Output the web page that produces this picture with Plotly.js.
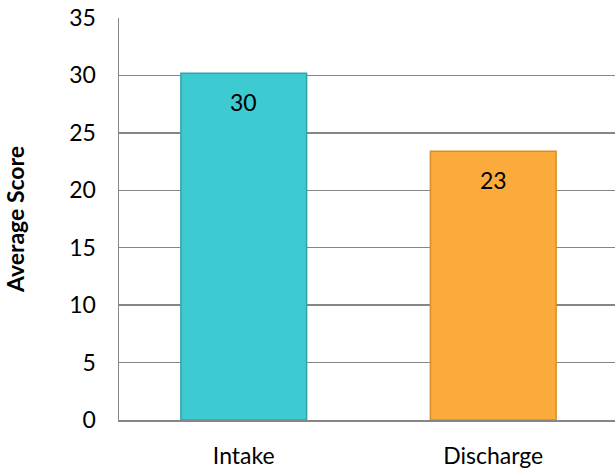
<!DOCTYPE html>
<html>
<head>
<meta charset="utf-8">
<script src="https://cdn.plot.ly/plotly-3.0.1.min.js"></script>
<style>
html,body{margin:0;padding:0;overflow:hidden;background:#fff;}
#chart{width:618px;height:471px;}
</style>
</head>
<body>
<div id="chart"></div>
<script>
const categories = ["Intake", "Discharge"];
const scores = [30.2, 23.4];
const labels = ["30", "23"];
const barColors = ["#3DCAD0", "#FBAB3B"];
const edgeColors = ["#2FA5AA", "#D98E2A"];

const trace = {
  type: "bar",
  x: categories,
  y: scores,
  marker: {color: barColors, line: {color: edgeColors, width: 1.5}},
  hoverinfo: "skip"
};

const annotations = categories.map((c, i) => ({
  x: c,
  y: scores[i],
  xref: "x",
  yref: "y",
  text: labels[i],
  showarrow: false,
  yshift: -29,
  font: {family: "Lato, 'Open Sans', sans-serif", size: 23, color: "#000"}
}));

const layout = {
  width: 618,
  height: 471,
  margin: {l: 119, r: 0, t: 18, b: 51},
  paper_bgcolor: "#fff",
  plot_bgcolor: "#fff",
  bargap: 0.496,
  showlegend: false,
  font: {family: "Lato, 'Open Sans', sans-serif", color: "#000"},
  annotations: annotations,
  xaxis: {
    type: "category",
    range: [-0.5, 1.5],
    showline: true,
    linecolor: "#868686",
    linewidth: 2,
    ticks: "",
    tickfont: {size: 23, color: "#000"},
    ticklabelstandoff: 14,
    showgrid: false,
    zeroline: false
  },
  yaxis: {
    range: [0, 35],
    dtick: 5,
    tick0: 0,
    showline: true,
    linecolor: "#868686",
    linewidth: 1.5,
    showgrid: true,
    gridcolor: "#868686",
    gridwidth: 1.5,
    zeroline: false,
    ticks: "",
    tickfont: {size: 23, color: "#000"},
    ticklabelstandoff: 17,
    title: {text: "<b>Average Score</b>", font: {size: 23, color: "#000"}, standoff: 38}
  }
};

Plotly.newPlot("chart", [trace], layout, {displayModeBar: false, staticPlot: true});
</script>
</body>
</html>
